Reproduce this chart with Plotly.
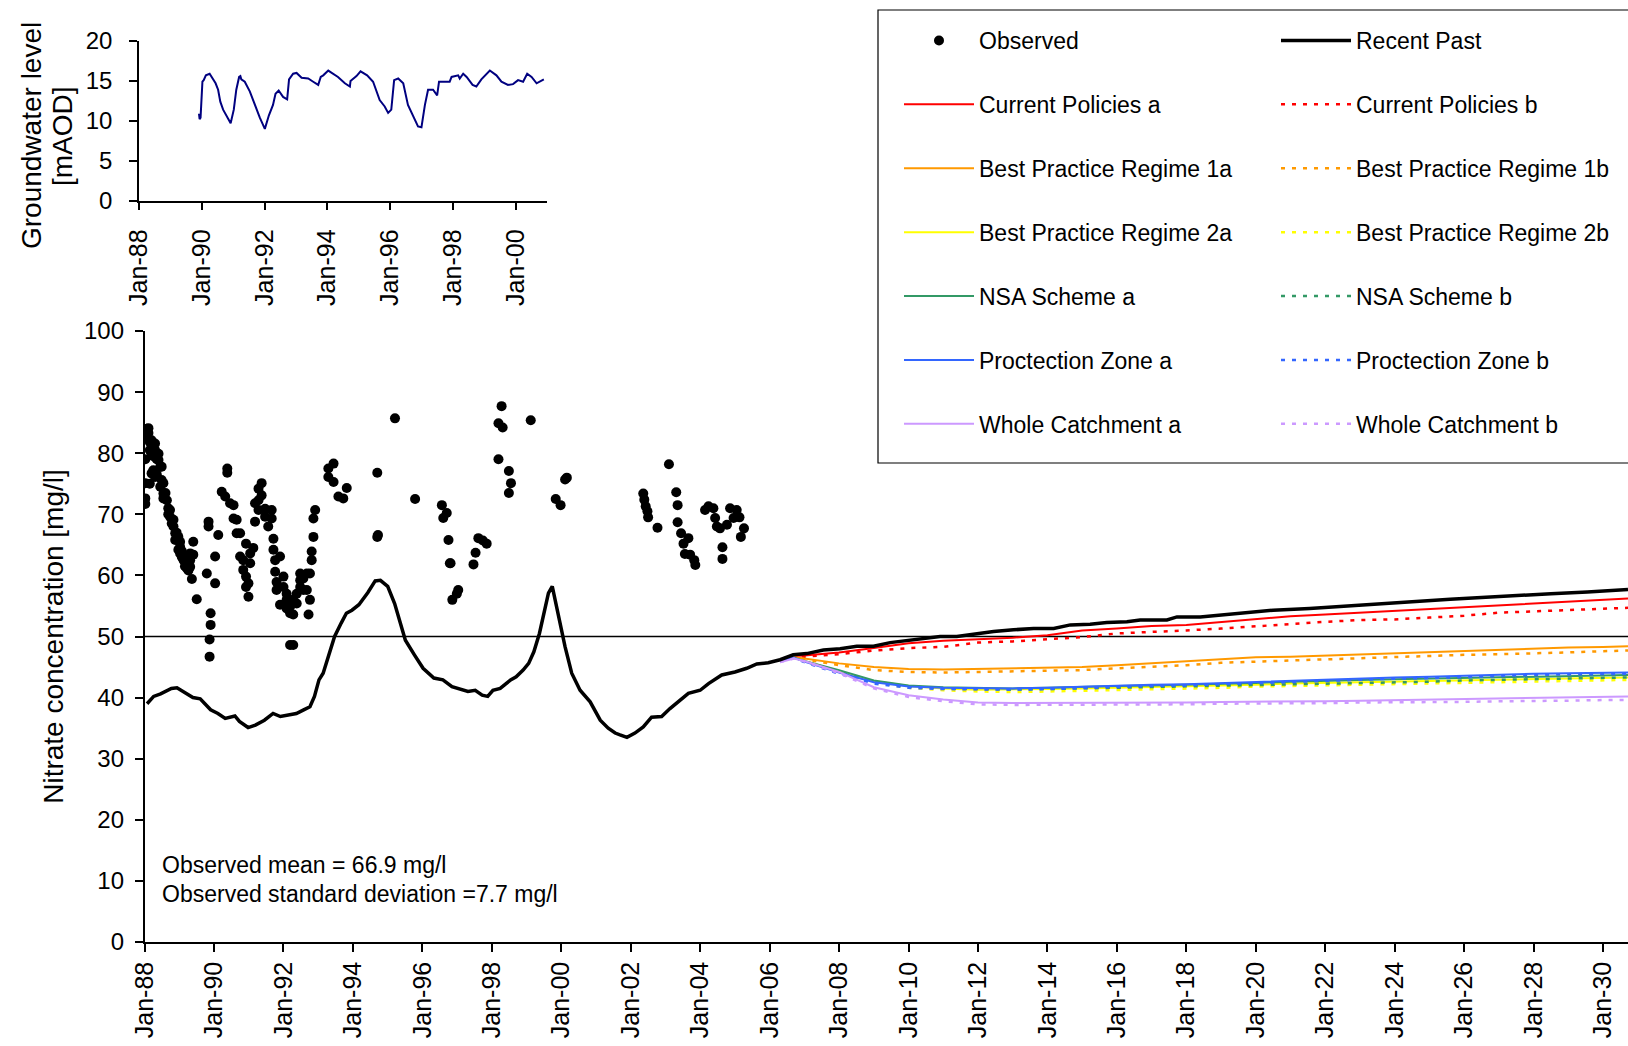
import pandas as pd
import plotly.graph_objects as go

FONT = "Liberation Sans, Arial, sans-serif"

# ---------------------------------------------------------------- data
# Groundwater level (inset), decimal year / mAOD
gw_year = [1989.91, 1989.93, 1989.96, 1989.98, 1990.02, 1990.06, 1990.13, 1990.25, 1990.34,
           1990.44, 1990.52, 1990.59, 1990.68, 1990.78, 1990.92, 1991.02, 1991.10, 1991.19,
           1991.23, 1991.26, 1991.37, 1991.53, 1991.69, 1991.85, 1992.01, 1992.14, 1992.27,
           1992.35, 1992.45, 1992.59, 1992.72, 1992.78, 1992.91, 1993.02, 1993.18, 1993.39,
           1993.55, 1993.71, 1993.79, 1993.87, 1994.03, 1994.18, 1994.34, 1994.56, 1994.72,
           1994.74, 1994.93, 1995.06, 1995.27, 1995.46, 1995.67, 1995.83, 1995.94, 1996.04,
           1996.13, 1996.26, 1996.42, 1996.57, 1996.74, 1996.89, 1997.00, 1997.11, 1997.21,
           1997.37, 1997.50, 1997.56, 1997.90, 1997.96, 1998.17, 1998.22, 1998.33, 1998.44,
           1998.63, 1998.75, 1998.91, 1999.18, 1999.39, 1999.55, 1999.76, 1999.92, 2000.08,
           2000.24, 2000.37, 2000.51, 2000.67, 2000.90]
gw_level = [10.9, 10.2, 10.4, 12.6, 14.9, 15.1, 15.7, 15.9, 15.3,
            14.7, 13.9, 12.4, 11.4, 10.7, 9.7, 11.4, 13.9, 15.5,
            15.6, 15.2, 14.9, 13.7, 12.0, 10.4, 9.0, 10.7, 12.0,
            13.4, 13.8, 13.0, 12.7, 15.2, 15.9, 16.0, 15.4, 15.3,
            14.9, 14.5, 15.5, 15.7, 16.3, 15.9, 15.5, 14.7, 14.3,
            15.0, 15.6, 16.2, 15.7, 14.9, 12.6, 11.8, 11.0, 11.4,
            15.1, 15.3, 14.7, 12.0, 10.5, 9.3, 9.2, 12.0, 13.9,
            13.9, 13.2, 14.9, 14.9, 15.5, 15.7, 15.3, 15.9, 15.5,
            14.5, 14.3, 15.2, 16.3, 15.7, 14.9, 14.5, 14.6, 15.1,
            14.9, 15.9, 15.5, 14.7, 15.2]

# Observed nitrate, decimal year / mg/l
obs_year = [1988.02, 1988.02, 1988.02, 1988.02, 1988.06, 1988.06, 1988.11, 1988.11, 1988.11,
            1988.15, 1988.15, 1988.15, 1988.20, 1988.20, 1988.20, 1988.25, 1988.25, 1988.30,
            1988.30, 1988.30, 1988.35, 1988.35, 1988.40, 1988.40, 1988.45, 1988.45, 1988.49,
            1988.49, 1988.54, 1988.54, 1988.54, 1988.60, 1988.64, 1988.68, 1988.68, 1988.73,
            1988.73, 1988.78, 1988.83, 1988.83, 1988.88, 1988.88, 1988.92, 1988.97, 1988.97,
            1989.02, 1989.02, 1989.02, 1989.07, 1989.07, 1989.12, 1989.12, 1989.16, 1989.21,
            1989.21, 1989.26, 1989.26, 1989.31, 1989.31, 1989.31, 1989.36, 1989.40, 1989.40,
            1989.50, 1989.79, 1989.84, 1989.84, 1989.87, 1989.87, 1989.90, 1989.90, 1990.03,
            1990.03, 1990.12, 1990.22, 1990.32, 1990.38, 1990.38, 1990.46, 1990.56, 1990.56,
            1990.65, 1990.65, 1990.75, 1990.75, 1990.84, 1990.84, 1990.92, 1990.92, 1990.92,
            1990.99, 1990.99, 1991.04, 1991.04, 1991.13, 1991.18, 1991.18, 1991.28, 1991.28,
            1991.28, 1991.37, 1991.37, 1991.47, 1991.47, 1991.56, 1991.66, 1991.66, 1991.71,
            1991.71, 1991.76, 1991.76, 1991.80, 1991.80, 1991.90, 1991.90, 1992.00, 1992.00,
            1992.09, 1992.09, 1992.09, 1992.19, 1992.19, 1992.19, 1992.28, 1992.28, 1992.28,
            1992.38, 1992.38, 1992.48, 1992.48, 1992.48, 1992.57, 1992.57, 1992.67, 1992.67,
            1992.72, 1992.76, 1992.76, 1992.81, 1992.81, 1992.86, 1992.86, 1992.91, 1993.29,
            1993.29, 1993.44, 1993.44, 1993.58, 1993.72, 1993.82, 1994.70, 1994.70, 1994.72,
            1995.21, 1995.79, 1996.56, 1996.60, 1996.70, 1996.75, 1996.79, 1996.81, 1996.86,
            1996.99, 1997.03, 1997.47, 1997.53, 1997.61, 1997.74, 1997.85, 1998.19, 1998.19,
            1998.28, 1998.31, 1998.49, 1998.49, 1998.55, 1999.12, 1999.84, 1999.98, 2000.11,
            2000.16, 2002.36, 2002.39, 2002.43, 2002.48, 2002.50, 2002.77, 2003.10, 2003.31,
            2003.35, 2003.35, 2003.45, 2003.52, 2003.56, 2003.66, 2003.71, 2003.83, 2003.86,
            2004.14, 2004.24, 2004.38, 2004.43, 2004.48, 2004.57, 2004.64, 2004.64, 2004.77,
            2004.86, 2004.96, 2005.05, 2005.13, 2005.17, 2005.26]
obs_nitrate = [72.6, 71.7, 79.0, 75.1, 82.5, 84.0, 84.1, 83.3, 82.4,
               80.5, 81.8, 75.0, 82.1, 80.0, 76.7, 79.5, 77.2, 81.6,
               80.5, 76.1, 79.0, 76.5, 79.9, 78.9, 77.8, 74.5, 77.8,
               75.6, 75.1, 73.4, 72.6, 73.5, 72.3, 70.0, 71.0, 70.7,
               69.6, 68.5, 69.1, 68.0, 66.9, 65.8, 67.0, 66.3, 64.2,
               64.7, 63.6, 65.5, 63.0, 64.0, 63.1, 62.5, 61.5, 62.0,
               61.2, 62.5, 60.8, 63.6, 62.5, 61.4, 59.4, 65.5, 63.4,
               56.1, 60.3, 68.8, 68.0, 49.5, 46.7, 53.8, 51.9, 63.1,
               58.7, 66.6, 73.7, 72.9, 77.5, 76.8, 71.8, 71.5, 69.3,
               69.1, 66.9, 66.9, 63.1, 62.5, 60.9, 65.2, 59.8, 58.1,
               56.5, 58.7, 62.0, 63.6, 64.5, 71.8, 68.8, 74.2, 70.7,
               72.3, 75.1, 73.1, 70.9, 69.6, 68.0, 70.7, 69.3, 66.0,
               64.2, 62.5, 60.6, 58.9, 57.6, 63.1, 55.2, 59.8, 58.1,
               57.0, 56.0, 54.6, 54.9, 53.8, 48.6, 56.0, 53.6, 48.6,
               57.0, 55.4, 60.3, 59.2, 58.1, 59.5, 57.6, 57.6, 60.3,
               53.6, 60.3, 56.0, 62.5, 63.9, 66.3, 69.3, 70.7, 76.1,
               77.5, 78.3, 75.3, 72.9, 72.6, 74.3, 76.8, 66.3, 66.6,
               85.7, 72.5, 71.5, 69.4, 70.2, 65.8, 62.0, 62.0, 56.0,
               57.0, 57.6, 61.8, 63.7, 66.1, 65.7, 65.2, 79.0, 84.9,
               87.7, 84.2, 77.1, 73.5, 75.1, 85.4, 72.5, 71.5, 75.7,
               76.0, 73.4, 72.4, 71.3, 70.5, 69.5, 67.8, 78.2, 73.6,
               71.5, 68.7, 66.9, 65.2, 63.5, 66.1, 63.4, 62.5, 61.7,
               70.7, 71.3, 71.0, 69.4, 68.0, 67.7, 64.6, 62.7, 68.3,
               71.0, 69.4, 70.7, 69.5, 66.3, 67.7]

# Recent Past simulation, decimal year / mg/l
past_year = [1988.07, 1988.26, 1988.46, 1988.77, 1988.93, 1989.18, 1989.39, 1989.60, 1989.75,
             1989.90, 1990.11, 1990.32, 1990.60, 1990.73, 1990.98, 1991.19, 1991.45, 1991.70,
             1991.91, 1992.17, 1992.37, 1992.58, 1992.76, 1992.89, 1993.02, 1993.14, 1993.30,
             1993.47, 1993.66, 1993.81, 1993.97, 1994.17, 1994.43, 1994.64, 1994.79, 1995.00,
             1995.20, 1995.36, 1995.51, 1995.77, 1996.02, 1996.33, 1996.59, 1996.85, 1997.10,
             1997.31, 1997.52, 1997.72, 1997.88, 1998.03, 1998.24, 1998.54, 1998.70, 1998.90,
             1999.06, 1999.21, 1999.37, 1999.49, 1999.63, 1999.74, 1999.96, 2000.11, 2000.30,
             2000.54, 2000.83, 2001.12, 2001.35, 2001.55, 2001.69, 2001.89, 2002.12, 2002.36,
             2002.60, 2002.89, 2003.13, 2003.37, 2003.66, 2004.00, 2004.24, 2004.62, 2005.00,
             2005.34, 2005.63, 2005.96, 2006.30, 2006.68, 2007.07, 2007.55, 2008.03, 2008.51,
             2008.99, 2009.47, 2009.95, 2010.43, 2010.91, 2011.39, 2011.87, 2012.45, 2013.02,
             2013.60, 2014.18, 2014.66, 2015.23, 2015.71, 2016.29, 2016.67, 2017.44, 2017.73,
             2018.40, 2019.00, 2019.55, 2020.50, 2021.55, 2022.50, 2023.60, 2024.50, 2025.60,
             2026.50, 2027.50, 2028.50, 2029.55, 2030.72]
past_nitrate = [39.0, 40.2, 40.6, 41.5, 41.6, 40.7, 40.0, 39.8, 38.8,
                38.0, 37.4, 36.6, 37.0, 36.1, 35.1, 35.5, 36.3, 37.4,
                36.9, 37.2, 37.4, 38.0, 38.5, 40.2, 42.9, 44.0, 46.7,
                50.0, 52.2, 53.8, 54.3, 55.2, 57.2, 59.1, 59.2, 58.2,
                55.4, 52.2, 49.4, 47.0, 44.8, 43.2, 42.9, 41.8, 41.4,
                41.0, 41.2, 40.4, 40.2, 41.2, 41.5, 42.9, 43.4, 44.5,
                45.6, 47.5, 50.5, 53.8, 57.1, 58.2, 52.2, 48.3, 44.0,
                41.2, 39.3, 36.3, 35.0, 34.2, 33.9, 33.5, 34.2, 35.2,
                36.8, 36.9, 38.2, 39.3, 40.7, 41.2, 42.3, 43.7, 44.2,
                44.8, 45.5, 45.7, 46.2, 47.0, 47.2, 47.8, 48.0, 48.4,
                48.4, 49.0, 49.3, 49.7, 50.0, 50.0, 50.4, 50.8, 51.1,
                51.3, 51.3, 51.9, 52.0, 52.3, 52.4, 52.7, 52.7, 53.2,
                53.2, 53.5, 53.8, 54.3, 54.6, 55.0, 55.4, 55.7, 56.1,
                56.4, 56.8, 57.0, 57.3, 57.7]

# Scenario projections, decimal year / mg/l
scen_year = [2006.3, 2006.7, 2007, 2008, 2009, 2010, 2011, 2012, 2013, 2014, 2015, 2016,
             2017, 2018, 2019, 2020, 2021, 2022, 2023, 2024, 2025, 2026, 2027, 2028,
             2029, 2030, 2030.72]
cp_a = [46.2, 46.8, 46.9, 47.4, 48.1, 48.9, 49.3, 49.5, 49.8, 50.2, 51.0, 51.3, 51.7, 51.9,
        52.4, 52.8, 53.3, 53.6, 53.9, 54.2, 54.5, 54.8, 55.2, 55.4, 55.8, 56.0, 56.2]
cp_b = [46.2, 46.7, 46.7, 47.1, 47.7, 48.1, 48.3, 49.0, 49.2, 49.5, 49.9, 50.5, 50.7, 51.0,
        51.3, 51.7, 52.0, 52.4, 52.7, 52.8, 53.1, 53.4, 53.9, 54.1, 54.3, 54.6, 54.7]
bpr1_a = [46.1, 46.6, 46.4, 45.6, 45.0, 44.7, 44.6, 44.7, 44.9, 44.9, 45.0, 45.3, 45.6, 45.9,
          46.3, 46.6, 46.7, 46.9, 47.1, 47.3, 47.5, 47.7, 47.8, 48.1, 48.2, 48.3, 48.4]
bpr1_b = [46.1, 46.6, 46.3, 45.3, 44.5, 44.2, 44.1, 44.2, 44.3, 44.4, 44.5, 44.8, 45.0, 45.3,
          45.7, 45.9, 46.1, 46.3, 46.5, 46.6, 46.8, 47.0, 47.1, 47.2, 47.4, 47.6, 47.7]
bpr2_a = [46.0, 46.5, 46.0, 44.4, 42.7, 41.9, 41.5, 41.3, 41.3, 41.4, 41.5, 41.6, 41.7, 41.8,
          42.0, 42.1, 42.3, 42.4, 42.6, 42.7, 42.8, 42.9, 43.0, 43.1, 43.2, 43.3, 43.3]
bpr2_b = [46.0, 46.5, 45.9, 44.2, 42.5, 41.6, 41.2, 41.0, 40.9, 41.0, 41.1, 41.2, 41.3, 41.5,
          41.6, 41.8, 41.9, 42.1, 42.2, 42.3, 42.4, 42.5, 42.6, 42.7, 42.8, 42.9, 42.9]
nsa_a = [46.0, 46.5, 46.0, 44.5, 42.8, 42.0, 41.7, 41.6, 41.5, 41.6, 41.8, 41.9, 42.0, 42.1,
         42.3, 42.4, 42.6, 42.8, 42.9, 43.0, 43.1, 43.3, 43.4, 43.5, 43.6, 43.7, 43.7]
nsa_b = [46.0, 46.5, 45.9, 44.3, 42.6, 41.8, 41.5, 41.4, 41.3, 41.4, 41.5, 41.6, 41.7, 41.8,
         41.9, 42.0, 42.1, 42.3, 42.4, 42.5, 42.6, 42.8, 42.9, 43.0, 43.1, 43.2, 43.3]
pz_a = [46.0, 46.5, 45.9, 44.1, 42.5, 41.8, 41.6, 41.5, 41.5, 41.6, 41.8, 41.9, 42.1, 42.2,
        42.4, 42.6, 42.8, 43.0, 43.1, 43.3, 43.4, 43.6, 43.7, 43.9, 44.0, 44.1, 44.1]
pz_b = [46.0, 46.5, 45.8, 43.9, 42.3, 41.6, 41.4, 41.3, 41.3, 41.4, 41.6, 41.7, 41.9, 42.0,
        42.2, 42.4, 42.5, 42.7, 42.9, 43.1, 43.2, 43.4, 43.5, 43.7, 43.8, 43.9, 43.9]
wc_a = [45.8, 46.4, 46.0, 44.2, 41.7, 40.4, 39.7, 39.2, 39.1, 39.1, 39.1, 39.2, 39.2, 39.2,
        39.3, 39.3, 39.4, 39.4, 39.5, 39.6, 39.6, 39.7, 39.8, 39.9, 40.0, 40.1, 40.2]
wc_b = [45.8, 46.4, 45.9, 44.0, 41.5, 40.1, 39.4, 38.9, 38.8, 38.8, 38.8, 38.8, 38.9, 38.9,
        39.0, 39.0, 39.1, 39.1, 39.2, 39.2, 39.3, 39.3, 39.4, 39.4, 39.5, 39.6, 39.6]

# Drinking-water limit
limit_year = [1988.0, 2030.72]
limit_value = [50, 50]

mean_text = "Observed mean = 66.9 mg/l"
sd_text = "Observed standard deviation =7.7 mg/l"
gw_title = ["Groundwater level", "[mAOD]"]


def to_date(years):
    out = []
    for y in years:
        yr = int(y)
        start = pd.Timestamp(yr, 1, 1)
        end = pd.Timestamp(yr + 1, 1, 1)
        out.append(start + (end - start) * (y - yr))
    return out


# ---------------------------------------------------------------- figure
W, H = 1628, 1046
ML = 139
PW = W - ML
SYM_W = 70  # width reserved for legend symbols


def px_x(px):
    return (px - ML) / PW


def px_y(py):
    return 1 - py / H


fig = go.Figure()

fig.add_trace(go.Scatter(
    x=to_date(limit_year), y=limit_value, mode="lines",
    line=dict(color="black", width=1.5), showlegend=False, hoverinfo="skip"))

scenarios = [
    ("Current Policies", cp_a, cp_b, "#FF0000"),
    ("Best Practice Regime 1", bpr1_a, bpr1_b, "#FF9900"),
    ("Best Practice Regime 2", bpr2_a, bpr2_b, "#FFFF00"),
    ("NSA Scheme", nsa_a, nsa_b, "#339966"),
    ("Proctection Zone", pz_a, pz_b, "#3366FF"),
    ("Whole Catchment", wc_a, wc_b, "#CC99FF"),
]
sx = to_date(scen_year)
for rank, (label, va, vb, color) in enumerate(scenarios, start=2):
    sep = "" if label[-1].isdigit() else " "
    fig.add_trace(go.Scatter(
        x=sx, y=vb, mode="lines", name=f"{label}{sep}b",
        line=dict(color=color, width=2.5, dash="4px,7px"),
        legend="legend2", legendgroup=f"{label}b", legendrank=rank))
    fig.add_trace(go.Scatter(
        x=sx, y=va, mode="lines", name=f"{label}{sep}a",
        line=dict(color=color, width=2),
        legend="legend", legendgroup=f"{label}a", legendrank=rank))

fig.add_trace(go.Scatter(
    x=to_date(past_year), y=past_nitrate, mode="lines", name="Recent Past",
    line=dict(color="black", width=3.5),
    legend="legend2", legendgroup="past", legendrank=1))

fig.add_trace(go.Scatter(
    x=to_date(obs_year), y=obs_nitrate, mode="markers", name="Observed",
    marker=dict(color="black", size=10),
    legend="legend", legendgroup="obs", legendrank=1))

fig.add_trace(go.Scatter(
    x=to_date(gw_year), y=gw_level, mode="lines", xaxis="x2", yaxis="y2",
    line=dict(color="#000080", width=2), showlegend=False))

axis_common = dict(
    showline=True, linecolor="black", linewidth=1.5, ticks="outside", ticklen=8,
    tickcolor="black", tickwidth=1.5, showgrid=False, zeroline=False,
    tickfont=dict(family=FONT, size=24, color="black"))

legend_common = dict(
    xref="container", yref="container", y=1 - 19 / H,
    xanchor="left", yanchor="top", traceorder="grouped", tracegroupgap=31,
    itemwidth=SYM_W, font=dict(family=FONT, size=23, color="black"),
    bgcolor="rgba(0,0,0,0)", borderwidth=0)

text_font = dict(family=FONT, size=23, color="black")
title_font = dict(family=FONT, size=28, color="black")

fig.update_layout(
    width=W, height=H,
    margin=dict(l=ML, r=0, t=0, b=0, autoexpand=False),
    paper_bgcolor="white", plot_bgcolor="white",
    font=dict(family=FONT, color="black"),
    xaxis=dict(
        axis_common, type="date", domain=[px_x(144.6), 1],
        range=[to_date([1988.0])[0], to_date([2030.72])[0]],
        tickformat="%b-%y", dtick="M24", tick0="1988-01-01", tickangle=-90,
        tickfont=dict(family=FONT, size=25, color="black"), anchor="y"),
    yaxis=dict(
        axis_common, domain=[px_y(942), px_y(331)], range=[0, 100], dtick=10,
        anchor="x", ticklabelstandoff=6,
        title=dict(text="Nitrate concentration [mg/l]", font=title_font, standoff=12)),
    xaxis2=dict(
        axis_common, type="date", domain=[0, px_x(547.3)],
        range=[to_date([1988.0])[0], to_date([2001.01])[0]],
        tickformat="%b-%y", dtick="M24", tick0="1988-01-01", tickangle=-90,
        ticklabelstandoff=9,
        tickfont=dict(family=FONT, size=25, color="black"), anchor="y2"),
    yaxis2=dict(
        axis_common, domain=[px_y(200.7), px_y(41)], range=[0, 20], dtick=5,
        anchor="x2", ticklabelstandoff=12,
        tickfont=dict(family=FONT, size=24, color="black")),
    legend=dict(legend_common, x=(979 - SYM_W - 10) / W),
    legend2=dict(legend_common, x=(1356 - SYM_W - 10) / W),
    shapes=[dict(type="rect", xref="paper", yref="paper",
                 x0=px_x(878), x1=1.05, y0=px_y(463), y1=px_y(10),
                 line=dict(color="black", width=1.2), fillcolor="rgba(0,0,0,0)",
                 layer="below")],
    annotations=[
        dict(text=mean_text, xref="paper", yref="paper", x=px_x(160), y=px_y(865),
             xanchor="left", yanchor="middle", showarrow=False, font=text_font),
        dict(text=sd_text, xref="paper", yref="paper", x=px_x(160), y=px_y(894),
             xanchor="left", yanchor="middle", showarrow=False, font=text_font),
        dict(text=gw_title[0], xref="paper", yref="paper", x=px_x(32), y=px_y(136),
             xanchor="center", yanchor="middle", textangle=-90, showarrow=False,
             font=title_font),
        dict(text=gw_title[1], xref="paper", yref="paper", x=px_x(63), y=px_y(136),
             xanchor="center", yanchor="middle", textangle=-90, showarrow=False,
             font=title_font),
    ],
)

fig.write_html("out.html")
